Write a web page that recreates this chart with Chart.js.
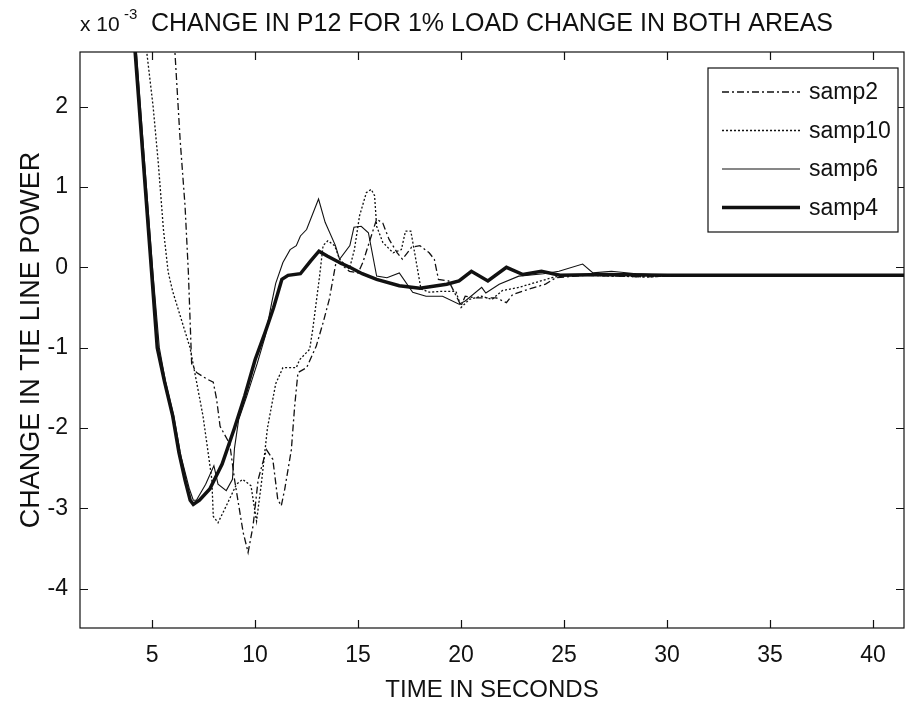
<!DOCTYPE html>
<html lang="en">
<head>
    <meta charset="UTF-8">
    <title>Change in P12 for 1% load change in both areas</title>
    <style>
        body {
            margin: 0;
            background-color: white;
        }
        canvas {
            display: block;
        }
    </style>
</head>
<body>
    <canvas id="p12Chart" width="905" height="703"></canvas>

    <script src="https://cdn.jsdelivr.net/npm/chart.js"></script>
    <script>
        // values are in units of 1e-3 (the "x 10^-3" label)
        const xTicks = [5, 10, 15, 20, 25, 30, 35, 40];
        const yTicks = [-4, -3, -2, -1, 0, 1, 2];

        const samp2T = [5.95, 6.11, 6.36, 6.6, 6.76, 6.92, 7.16, 7.65, 7.97, 8.13, 8.3, 8.45, 8.77, 9.0, 9.42, 9.66, 9.9, 10.15, 10.55, 10.86, 11.1, 11.27, 11.44, 11.76, 11.92, 12.08, 12.5, 12.97, 13.3, 13.6, 13.94, 14.2, 14.58, 15.0, 15.23, 15.64, 15.9, 16.2, 16.5, 16.9, 17.15, 17.6, 18.0, 18.45, 18.7, 18.9, 19.4, 20.0, 20.2, 20.7, 21.7, 22.2, 22.5, 23.3, 24.1, 24.6, 26.0, 29.0, 31.0, 42.0];
        const samp2V = [3.35, 2.67, 1.59, 0.76, -0.06, -1.2, -1.31, -1.39, -1.43, -1.64, -1.98, -2.05, -2.2, -2.64, -3.3, -3.55, -3.22, -2.64, -2.27, -2.39, -2.89, -2.97, -2.76, -2.27, -1.73, -1.31, -1.25, -0.98, -0.69, -0.4, 0.08, 0.03, -0.05, -0.07, 0.06, 0.39, 0.6, 0.55, 0.35, 0.18, 0.1, 0.25, 0.27, 0.18, 0.1, -0.15, -0.17, -0.48, -0.36, -0.38, -0.38, -0.44, -0.34, -0.27, -0.21, -0.13, -0.1, -0.12, -0.1, -0.1];

        const samp10T = [4.45, 4.74, 5.05, 5.3, 5.55, 5.78, 6.0, 6.36, 6.84, 7.16, 7.47, 7.7, 7.9, 7.97, 8.2, 8.6, 9.1, 9.4, 9.8, 10.07, 10.3, 10.6, 11.0, 11.35, 12.0, 12.16, 12.65, 12.8, 13.13, 13.3, 13.53, 13.86, 14.1, 14.58, 14.82, 15.07, 15.4, 15.64, 15.8, 15.9, 16.2, 16.7, 17.1, 17.3, 17.56, 17.8, 18.05, 18.45, 19.0, 19.75, 20.0, 20.4, 21.0, 21.5, 22.0, 22.8, 23.6, 24.4, 25.1, 26.5, 29.0, 31.0, 42.0];
        const samp10V = [3.3, 2.68, 2.0, 1.3, 0.47, -0.06, -0.3, -0.6, -1.0, -1.43, -1.85, -2.27, -2.64, -3.1, -3.18, -2.97, -2.7, -2.64, -2.72, -3.16, -2.7, -2.0, -1.45, -1.25, -1.25, -1.15, -1.02, -0.77, -0.11, 0.27, 0.33, 0.27, 0.1, -0.02, 0.22, 0.64, 0.93, 0.97, 0.89, 0.51, 0.31, 0.18, 0.22, 0.45, 0.45, 0.1, -0.27, -0.31, -0.3, -0.3, -0.5, -0.4, -0.36, -0.4, -0.29, -0.25, -0.19, -0.13, -0.09, -0.1, -0.12, -0.1, -0.1];

        const samp6T = [4.05, 4.55, 5.05, 5.35, 5.65, 6.05, 6.4, 6.8, 7.0, 7.15, 7.6, 8.0, 8.2, 8.6, 8.9, 9.0, 9.2, 9.6, 10.1, 10.5, 10.8, 11.0, 11.35, 11.7, 12.0, 12.2, 12.5, 13.08, 13.4, 13.9, 14.1, 14.6, 14.8, 15.15, 15.5, 15.9, 16.4, 17.0, 17.65, 18.3, 19.1, 19.9, 20.2, 21.0, 21.2, 21.85, 22.8, 24.0, 24.75, 25.9, 26.4, 27.3, 28.5, 30.0, 42.0];
        const samp6V = [3.35, 1.6, -0.1, -1.0, -1.42, -1.85, -2.35, -2.75, -2.9, -2.9, -2.7, -2.47, -2.7, -2.78, -2.64, -2.25, -1.9, -1.6, -1.2, -0.85, -0.45, -0.2, 0.06, 0.22, 0.27, 0.39, 0.47, 0.85, 0.56, 0.27, 0.1, 0.27, 0.5, 0.51, 0.43, -0.11, -0.13, -0.07, -0.31, -0.36, -0.36, -0.46, -0.42, -0.25, -0.32, -0.21, -0.11, -0.08, -0.05, 0.04, -0.07, -0.05, -0.08, -0.1, -0.1];

        const samp4T = [4.0, 4.18, 4.5, 4.9, 5.25, 5.6, 6.0, 6.3, 6.6, 6.85, 7.0, 7.3, 7.8, 8.4, 9.0, 9.5, 10.0, 10.5, 10.9, 11.3, 11.6, 12.2, 12.7, 13.1, 13.5, 14.1, 14.6, 15.2, 15.9, 17.0, 18.0, 19.3, 19.9, 20.5, 21.3, 22.2, 23.0, 23.9, 24.8, 27.0, 30.0, 35.0, 42.0];
        const samp4V = [3.35, 2.67, 1.57, 0.2, -1.0, -1.42, -1.85, -2.3, -2.65, -2.9, -2.95, -2.9, -2.76, -2.45, -2.0, -1.6, -1.15, -0.8, -0.5, -0.15, -0.1, -0.08, 0.08, 0.2, 0.14, 0.06, 0.0, -0.08, -0.15, -0.23, -0.26, -0.21, -0.17, -0.05, -0.17, 0.0, -0.09, -0.05, -0.1, -0.09, -0.1, -0.1, -0.1];

        const ink = '#111';
        const fontFamily = '"Liberation Sans", Arial, sans-serif';

        function toPoints(ts, vs) {
            return ts.map((t, i) => ({ x: t, y: vs[i] }));
        }

        const datasets = [
            { label: 'samp2', data: toPoints(samp2T, samp2V), borderWidth: 1.3, borderDash: [7, 3, 2, 3] },
            { label: 'samp10', data: toPoints(samp10T, samp10V), borderWidth: 1.3, borderDash: [2, 2] },
            { label: 'samp6', data: toPoints(samp6T, samp6V), borderWidth: 1.1, borderDash: [] },
            { label: 'samp4', data: toPoints(samp4T, samp4V), borderWidth: 3.5, borderDash: [] }
        ].map(ds => Object.assign(ds, { borderColor: ink, pointRadius: 0, tension: 0, fill: false }));

        // frame, inward ticks, legend box and the titles, drawn like the matlab figure
        const matlabLook = {
            id: 'matlabLook',
            afterDatasetsDraw(chart) {
                const { ctx, chartArea: a, scales } = chart;
                ctx.save();
                ctx.strokeStyle = ink;
                ctx.lineWidth = 1.2;
                ctx.setLineDash([]);
                ctx.strokeRect(a.left, a.top, a.right - a.left, a.bottom - a.top);

                ctx.beginPath();
                xTicks.forEach(v => {
                    const px = Math.round(scales.x.getPixelForValue(v)) + 0.5;
                    ctx.moveTo(px, a.bottom); ctx.lineTo(px, a.bottom - 8);
                    ctx.moveTo(px, a.top); ctx.lineTo(px, a.top + 8);
                });
                yTicks.forEach(v => {
                    const py = Math.round(scales.y.getPixelForValue(v)) + 0.5;
                    ctx.moveTo(a.left, py); ctx.lineTo(a.left + 8, py);
                    ctx.moveTo(a.right, py); ctx.lineTo(a.right - 8, py);
                });
                ctx.stroke();

                // legend
                const box = { left: 708, top: 68, right: 898, bottom: 232 };
                ctx.fillStyle = 'white';
                ctx.fillRect(box.left, box.top, box.right - box.left, box.bottom - box.top);
                ctx.lineWidth = 1.2;
                ctx.strokeRect(box.left, box.top, box.right - box.left, box.bottom - box.top);
                ctx.font = '23px ' + fontFamily;
                ctx.textBaseline = 'middle';
                ctx.textAlign = 'left';
                ctx.fillStyle = ink;
                chart.data.datasets.forEach((ds, i) => {
                    const rowY = 92 + i * 38.5;
                    ctx.beginPath();
                    ctx.lineWidth = ds.borderWidth;
                    ctx.setLineDash(ds.borderDash);
                    ctx.moveTo(722, rowY);
                    ctx.lineTo(800, rowY);
                    ctx.stroke();
                    ctx.setLineDash([]);
                    ctx.fillText(ds.label, 809, rowY + 1);
                });
                ctx.restore();
            },
            afterDraw(chart) {
                const { ctx, chartArea: a } = chart;
                ctx.save();
                ctx.fillStyle = ink;
                ctx.textBaseline = 'alphabetic';

                ctx.font = '21px ' + fontFamily;
                ctx.textAlign = 'left';
                ctx.fillText('x 10', 80, 31);
                ctx.font = '15px ' + fontFamily;
                ctx.fillText('-3', 124, 19);

                ctx.font = '25px ' + fontFamily;
                ctx.textAlign = 'center';
                ctx.fillText('CHANGE IN P12 FOR 1% LOAD CHANGE IN BOTH AREAS', (a.left + a.right) / 2, 31);

                ctx.font = '24px ' + fontFamily;
                ctx.fillText('TIME IN SECONDS', (a.left + a.right) / 2, 697);

                ctx.font = '27px ' + fontFamily;
                ctx.translate(39, (a.top + a.bottom) / 2);
                ctx.rotate(-Math.PI / 2);
                ctx.fillText('CHANGE IN TIE LINE POWER', 0, 0);
                ctx.restore();
            }
        };

        const tickFont = { family: fontFamily, size: 23 };

        new Chart(document.getElementById('p12Chart'), {
            type: 'line',
            data: { datasets: datasets },
            options: {
                responsive: false,
                animation: false,
                devicePixelRatio: 1,
                layout: { padding: { top: 52, right: 1, left: 0, bottom: 0 } },
                plugins: {
                    legend: { display: false },
                    tooltip: { enabled: false },
                    title: { display: false }
                },
                scales: {
                    x: {
                        type: 'linear',
                        min: 1.5,
                        max: 41.5,
                        grid: { display: false, drawTicks: false, tickLength: 0 },
                        border: { display: false },
                        ticks: { color: ink, font: tickFont, padding: 14, maxRotation: 0, autoSkip: false },
                        afterBuildTicks: s => { s.ticks = xTicks.map(v => ({ value: v })); },
                        afterFit: s => { s.height = 75; }
                    },
                    y: {
                        type: 'linear',
                        min: -4.49,
                        max: 2.68,
                        grid: { display: false, drawTicks: false, tickLength: 0 },
                        border: { display: false },
                        ticks: { color: ink, font: tickFont, padding: 12, autoSkip: false },
                        afterBuildTicks: s => { s.ticks = yTicks.map(v => ({ value: v })); },
                        afterFit: s => { s.width = 80; }
                    }
                }
            },
            plugins: [matlabLook]
        });
    </script>
</body>
</html>
